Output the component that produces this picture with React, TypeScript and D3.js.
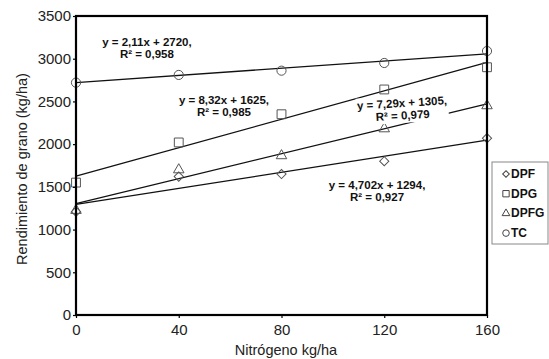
import React, { useEffect, useRef } from "react";
import * as d3 from "d3";

const nitrogen = [0, 40, 80, 120, 160];
const seriesNames = ["DPF", "DPG", "DPFG", "TC"];
const dpf = [1210, 1620, 1650, 1800, 2070];
const dpg = [1550, 2020, 2350, 2640, 2900];
const dpfg = [1225, 1700, 1865, 2180, 2450];
const tc = [2720, 2810, 2860, 2950, 3090];
const slopes = [4.702, 8.32, 7.29, 2.11];
const intercepts = [1294, 1625, 1305, 2720];
const eqLine1 = ["y = 4,702x + 1294,", "y = 8,32x + 1625,", "y = 7,29x + 1305,", "y = 2,11x + 2720,"];
const eqLine2 = ["R² = 0,927", "R² = 0,985", "R² = 0,979", "R² = 0,958"];
const eqX = [117.2, 57.6, 126.9, 27.6];
const eqY = [1522, 2517, 2482, 3196];
const eqAngle = [0, 0, -3.5, 0];
const yTicks = [0, 500, 1000, 1500, 2000, 2500, 3000, 3500];
const xTicks = [0, 40, 80, 120, 160];
const xTitle = "Nitrógeno kg/ha";
const yTitle = "Rendimiento de grano (kg/ha)";

const W = 549;
const H = 359;
const M = { left: 76, right: 487, top: 16, bottom: 315 };
const FONT = "'Liberation Sans', Arial, sans-serif";

export default function App() {
  const ref = useRef<SVGSVGElement>(null);
  useEffect(() => {
    const svg = d3.select(ref.current);
    svg.selectAll("*").remove();
    const x = d3.scaleLinear().domain([0, 160]).range([M.left, M.right]);
    const y = d3.scaleLinear().domain([0, 3500]).range([M.bottom, M.top]);
    const values = [dpf, dpg, dpfg, tc];
    const symbols = [d3.symbolSquare, d3.symbolSquare, d3.symbolTriangle, d3.symbolCircle];
    const sizes = [42, 78, 48, 66];
    const rot = [45, 0, 0, 0];
    const legSizes = [22, 40, 26, 34];

    svg.append("rect").attr("width", W).attr("height", H).attr("fill", "#fff");

    // trend lines
    slopes.forEach((s, i) => {
      svg.append("line")
        .attr("x1", x(0)).attr("y1", y(intercepts[i]))
        .attr("x2", x(160)).attr("y2", y(intercepts[i] + s * 160))
        .attr("stroke", "#111").attr("stroke-width", 1.3);
    });

    // markers
    values.forEach((vals, i) => {
      const sym = d3.symbol().type(symbols[i]).size(sizes[i]);
      svg.append("g").selectAll("path").data(vals).join("path")
        .attr("d", sym() as string)
        .attr("transform", (d, j) => `translate(${x(nitrogen[j])},${y(d)}) rotate(${rot[i]})`)
        .attr("fill", "none").attr("stroke", "#555").attr("stroke-width", 1);
    });

    // equation labels
    eqLine1.forEach((t, i) => {
      const g = svg.append("g")
        .attr("transform", `translate(${x(eqX[i])},${y(eqY[i])}) rotate(${eqAngle[i]})`);
      const l1 = g.append("text").text(t).attr("y", 0);
      const l2 = g.append("text").text(eqLine2[i]).attr("y", 12.5);
      [l1, l2].forEach((l) => l.attr("text-anchor", "middle").attr("dominant-baseline", "central")
        .attr("font-family", FONT).attr("font-weight", "bold").attr("font-size", 11.5).attr("fill", "#111"));
      const w = (l1.node() as SVGTextElement).getComputedTextLength();
      g.insert("rect", "text").attr("x", -w / 2 - 1).attr("y", -7).attr("width", w + 2).attr("height", 27).attr("fill", "#fff");
    });

    // frame
    svg.append("rect")
      .attr("x", M.left).attr("y", M.top)
      .attr("width", M.right - M.left).attr("height", M.bottom - M.top)
      .attr("fill", "none").attr("stroke", "#000").attr("stroke-width", 2.2);

    // axes
    const ax = svg.append("g").attr("transform", `translate(0,${M.bottom})`)
      .call(d3.axisBottom(x).tickValues(xTicks).tickSize(3).tickPadding(6).tickFormat(d3.format("d")));
    const ay = svg.append("g").attr("transform", `translate(${M.left},0)`)
      .call(d3.axisLeft(y).tickValues(yTicks).tickSize(3).tickPadding(2).tickFormat(d3.format("d")));
    [ax, ay].forEach((a) => {
      a.select(".domain").remove();
      a.selectAll("line").attr("stroke", "#000").attr("stroke-width", 1.2);
      a.selectAll("text").attr("font-family", FONT).attr("font-size", 15).attr("fill", "#222");
    });
    ax.selectAll("text").attr("dy", "0.72em");

    // titles
    svg.append("text").text(xTitle)
      .attr("x", 286).attr("y", 355).attr("text-anchor", "middle")
      .attr("font-family", FONT).attr("font-size", 14.5).attr("fill", "#222");
    svg.append("text").text(yTitle)
      .attr("transform", `translate(27,169) rotate(-90)`).attr("text-anchor", "middle")
      .attr("font-family", FONT).attr("font-size", 14.5).attr("fill", "#222");

    // legend
    const lg = svg.append("g");
    lg.append("rect").attr("x", 492).attr("y", 162).attr("width", 56).attr("height", 82)
      .attr("fill", "#fff").attr("stroke", "#888").attr("stroke-width", 1);
    seriesNames.forEach((n, i) => {
      const cy = 174 + i * 19.7;
      const sym = d3.symbol().type(symbols[i]).size(legSizes[i]);
      lg.append("path").attr("d", sym() as string)
        .attr("transform", `translate(506,${cy}) rotate(${rot[i]})`)
        .attr("fill", "none").attr("stroke", "#444").attr("stroke-width", 1);
      lg.append("text").text(n).attr("x", 511).attr("y", cy).attr("dominant-baseline", "central")
        .attr("font-family", FONT).attr("font-weight", "bold").attr("font-size", 12).attr("fill", "#111");
    });
  }, []);
  return (
    <svg ref={ref} width={W} height={H} style={{ position: "absolute", left: 0, top: 0 }} />
  );
}
